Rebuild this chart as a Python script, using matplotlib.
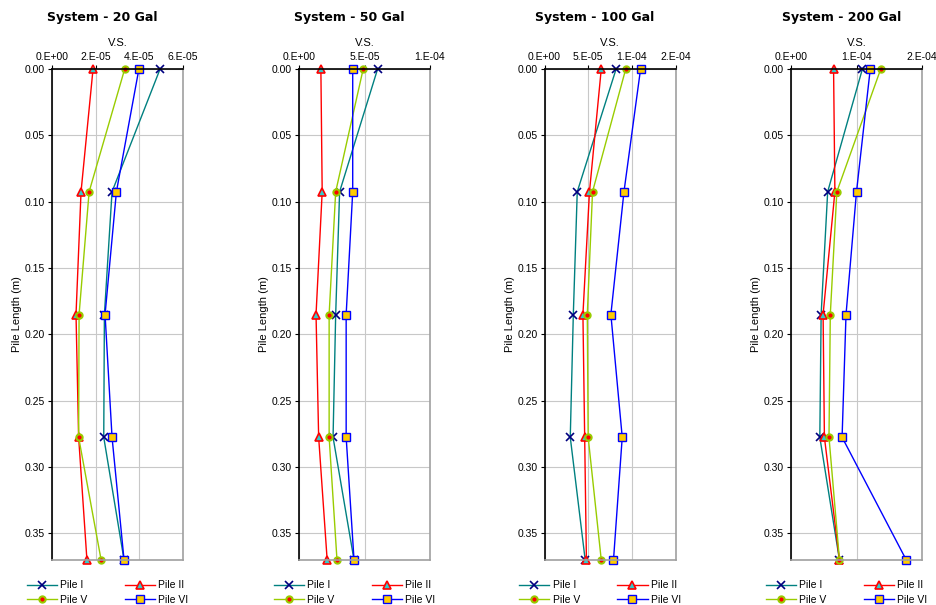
import matplotlib
matplotlib.use("Agg")
from matplotlib import pyplot as plt

depth = [0, 0.0925, 0.185, 0.2775, 0.37]

titles = ["System - 20 Gal", "System - 50 Gal", "System - 100 Gal", "System - 200 Gal"]
names = ["Pile I", "Pile II", "Pile V", "Pile VI"]

pile1 = [[4.95e-5, 2.75e-5, 2.4e-5, 2.37e-5, 3.3e-5],
         [6.0e-5, 3.1e-5, 2.8e-5, 2.6e-5, 4.2e-5],
         [8.2e-5, 3.75e-5, 3.3e-5, 2.95e-5, 4.66e-5],
         [1.09e-4, 5.6e-5, 4.6e-5, 4.4e-5, 7.4e-5]]
pile2 = [[1.88e-5, 1.33e-5, 1.1e-5, 1.22e-5, 1.6e-5],
         [1.67e-5, 1.77e-5, 1.3e-5, 1.5e-5, 2.15e-5],
         [6.5e-5, 5.15e-5, 4.4e-5, 4.6e-5, 4.8e-5],
         [6.5e-5, 6.7e-5, 4.9e-5, 5.1e-5, 7.4e-5]]
pile5 = [[3.33e-5, 1.7e-5, 1.24e-5, 1.22e-5, 2.25e-5],
         [4.9e-5, 2.8e-5, 2.3e-5, 2.3e-5, 2.9e-5],
         [9.3e-5, 5.5e-5, 4.9e-5, 5.0e-5, 6.5e-5],
         [1.37e-4, 7.0e-5, 6.0e-5, 5.8e-5, 7.4e-5]]
pile6 = [[3.98e-5, 2.95e-5, 2.43e-5, 2.75e-5, 3.3e-5],
         [4.1e-5, 4.1e-5, 3.6e-5, 3.6e-5, 4.2e-5],
         [1.1e-4, 9.1e-5, 7.6e-5, 8.9e-5, 7.9e-5],
         [1.21e-4, 1.0e-4, 8.4e-5, 7.8e-5, 1.76e-4]]

xmax = [6e-5, 1e-4, 1.5e-4, 2e-4]
xticks = [[0, 2e-5, 4e-5, 6e-5],
          [0, 5e-5, 1e-4],
          [0, 5e-5, 1e-4, 1.5e-4],
          [0, 1e-4, 2e-4]]
xticklabels = [["0.E+00", "2.E-05", "4.E-05", "6.E-05"],
               ["0.E+00", "5.E-05", "1.E-04"],
               ["0.E+00", "5.E-05", "1.E-04", "2.E-04"],
               ["0.E+00", "1.E-04", "2.E-04"]]
yticks = [0, 0.05, 0.10, 0.15, 0.20, 0.25, 0.30, 0.35]

plt.rcParams["font.family"] = ["Liberation Sans", "DejaVu Sans"]

W, H = 936, 605
fig = plt.figure(figsize=(W / 100, H / 100), dpi=100)

lefts = [52, 299, 544.5, 791]
for k in range(4):
    ax = fig.add_axes([lefts[k] / W, 45 / H, 131 / W, 491 / H])
    l1, = ax.plot(pile1[k], depth, color="#008080", lw=1, marker="x", ms=6,
                  mec="#000080", mew=1.2, clip_on=False, label=names[0])
    l2, = ax.plot(pile2[k], depth, color="#FF0000", lw=1, marker="^", ms=6,
                  mfc="#33CCCC", mec="#FF0000", mew=1.2, clip_on=False, label=names[1])
    l5, = ax.plot(pile5[k], depth, color="#99CC00", lw=1, marker="o", ms=4.5,
                  mfc="#FF0000", mec="#99CC00", mew=1.5, clip_on=False, label=names[2])
    l6, = ax.plot(pile6[k], depth, color="#0000FF", lw=1, marker="s", ms=5.5,
                  mfc="#FFCC00", mec="#0000FF", mew=1, clip_on=False, label=names[3])

    ax.set_xlim(0, xmax[k])
    ax.set_ylim(0.37, 0)
    ax.xaxis.tick_top()
    ax.xaxis.set_label_position("top")
    ax.set_xticks(xticks[k])
    ax.set_xticklabels(xticklabels[k])
    ax.set_yticks(yticks)
    ax.set_yticklabels(["%.2f" % v for v in yticks])
    ax.tick_params(labelsize=7.5, length=3, width=0.8, pad=2)
    ax.grid(True, color="#C8C8C8", lw=0.8)
    ax.set_axisbelow(True)
    ax.set_xlabel("V.S.", fontsize=8, labelpad=4)
    ax.set_ylabel("Pile Length (m)", fontsize=8, labelpad=2)
    ax.spines["top"].set_color("black")
    ax.spines["left"].set_color("black")
    ax.spines["right"].set_color("#A0A0A0")
    ax.spines["bottom"].set_color("#A0A0A0")
    for s in ax.spines.values():
        s.set_linewidth(1.2)

    cx = (lefts[k] + 65.5) / W
    fig.text(cx - 15 / W, 1 - 17 / H, titles[k], ha="center", va="center",
             fontsize=9, fontweight="bold", family="DejaVu Sans")
    # legend sits a little left of the plot centre, like the title
    ax.legend([l1, l5, l2, l6], [names[0], names[2], names[1], names[3]],
              loc="upper center", bbox_to_anchor=(0.5 - 10 / 131, -0.033), ncol=2,
              frameon=False, fontsize=7.5, handlelength=2.9, columnspacing=3.6,
              handletextpad=0.3, labelspacing=0.4, borderaxespad=0)

fig.savefig("out.png", dpi=100)
